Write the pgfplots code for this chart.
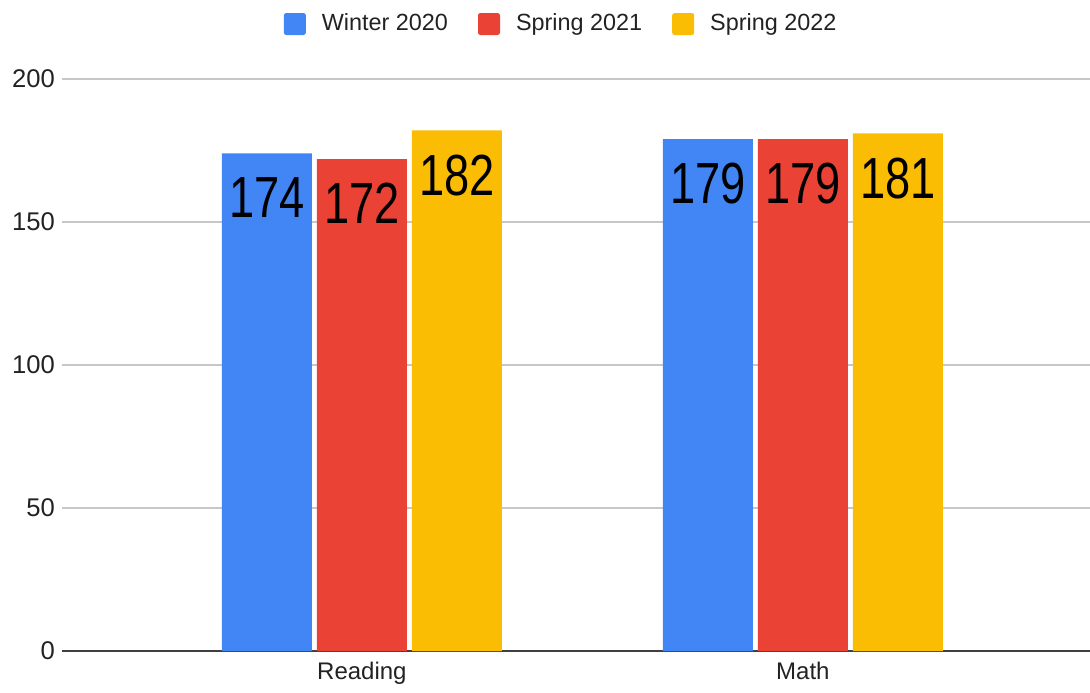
\documentclass[border=0pt]{standalone}
\usepackage{fontspec}
\setmainfont{Liberation Sans}
\usepackage{graphicx}
\usepackage{pgfplots}
\pgfplotsset{compat=1.18}

\definecolor{GBlue}{HTML}{4285F4}
\definecolor{GRed}{HTML}{EA4335}
\definecolor{GYellow}{HTML}{FBBC04}
\definecolor{GText}{HTML}{222222}

\begin{document}
\begin{tikzpicture}
\begin{axis}[
  ybar,
  scale only axis,
  width=514pt,
  height=286pt,
  ymin=0, ymax=200,
  xmin=-0.68, xmax=1.651,
  xtick={0,1},
  xticklabels={Reading,Math},
  ytick={0,50,...,200},
  /pgf/number format/assume math mode=true,
  tick label style={font=\fontsize{12}{14}\selectfont, text=GText},
  y tick label style={font=\fontsize{12.8}{14}\selectfont},
  major tick length=0pt,
  axis x line*=bottom,
  axis y line*=left,
  x axis line style={-, draw=black!75, line width=1pt},
  y axis line style={draw=none},
  ymajorgrids=true,
  grid style={black!22, line width=0.8pt},
  bar width=45pt,
  enlarge x limits=false,
  x tick label style={yshift=-2pt},
  legend style={at={(0.4865,1)}, anchor=center, yshift=27.5pt,
    legend columns=3, draw=none, fill=none,
    font=\fontsize{11.7}{14}\selectfont, text=GText,
    /tikz/every odd column/.append style={column sep=6pt},
    /tikz/every even column/.append style={column sep=13pt}},
  legend image code/.code={
    \draw[#1, draw=none, rounded corners=1.2pt] (0pt,-5.5pt) rectangle (11pt,5.5pt);
  },
  nodes near coords={\scalebox{0.78}[1]{\pgfmathprintnumber{\pgfplotspointmeta}}},
  nodes near coords style={anchor=north, inner sep=0pt, yshift=-12pt,
    font=\fontsize{29}{30}\selectfont, text=black},
]
\addplot[fill=GBlue, draw=none, bar shift=-47.5pt] coordinates {(0,174) (1,179)};
\addplot[fill=GRed, draw=none, bar shift=0pt] coordinates {(0,172) (1,179)};
\addplot[fill=GYellow, draw=none, bar shift=47.5pt] coordinates {(0,182) (1,181)};
\legend{Winter 2020, Spring 2021, Spring 2022}
\end{axis}
\pgfresetboundingbox
\path[use as bounding box] (-31pt,-20.5pt) rectangle (514pt,325.5pt);
\end{tikzpicture}
\end{document}
